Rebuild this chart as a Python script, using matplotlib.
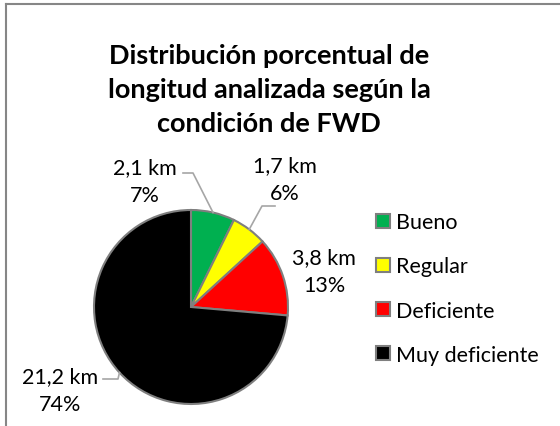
import matplotlib
matplotlib.use("Agg")
import matplotlib.pyplot as plt
import numpy as np
from matplotlib.lines import Line2D
from matplotlib.patches import Patch

categories = ["Bueno", "Regular", "Deficiente", "Muy deficiente"]
lengths_km = [2.1, 1.7, 3.8, 21.2]
colors = ["#00b050", "#ffff00", "#ff0000", "#000000"]
title = "Distribución porcentual de\nlongitud analizada según la\ncondición de FWD"

W, H = 560, 427
DPI = 100
plt.rcParams['font.family'] = ['Lato', 'DejaVu Sans']

fig = plt.figure(figsize=(W / DPI, H / DPI), dpi=DPI)

# chart border (cropped on right/bottom)
fig.add_artist(Line2D([5.5 / W, 5.5 / W], [0, 1 - 4.5 / H], transform=fig.transFigure,
                      color="#868686", lw=1.5))
fig.add_artist(Line2D([5.5 / W, 1], [1 - 4.5 / H, 1 - 4.5 / H], transform=fig.transFigure,
                      color="#868686", lw=1.5))

cx, cy, R = 191, 308, 97
ax = fig.add_axes([(cx - R) / W, (H - cy - R) / H, 2 * R / W, 2 * R / H])

wedges, _ = ax.pie(lengths_km, colors=colors, startangle=90, counterclock=False, radius=1,
                   wedgeprops=dict(edgecolor="#7f7f7f", linewidth=1.5))
ax.set_xlim(-1, 1)
ax.set_ylim(-1, 1)
ax.set_aspect("equal")
ax.axis("off")

total = sum(lengths_km)
pcts = [v / total * 100 for v in lengths_km]

def px2d(px, py):
    return (px - cx) / R, (cy - py) / R

# label text centres (pixels) and leader-line elbows (pixels)
label_pos = [(145, 182), (285, 180), (324, 272), (60, 391)]
elbows = [[(183, 174), (193, 174)], [(275, 207), (262, 207)], None, [(103, 380), (118, 380)]]

fs = 15.5
for i, v in enumerate(lengths_km):
    txt = f"{v:.1f}".replace(".", ",") + " km\n" + f"{pcts[i]:.0f}%"
    x, y = px2d(*label_pos[i])
    ax.text(x, y, txt, ha="center", va="center", fontsize=fs, linespacing=1.45,
            clip_on=False)
    if elbows[i] is not None:
        frac_mid = (sum(lengths_km[:i]) + v / 2) / total
        ang = np.deg2rad(90 - 360 * frac_mid)
        ex, ey = np.cos(ang), np.sin(ang)
        pts = [px2d(*p) for p in elbows[i]] + [(ex, ey)]
        ax.plot([p[0] for p in pts], [p[1] for p in pts], color="#a6a6a6", lw=1.2,
                clip_on=False)

handles = [Patch(facecolor=c, edgecolor="#7f7f7f", linewidth=1.5) for c in colors]
fig.legend(handles, categories, loc="center left", bbox_to_anchor=(376 / W, 1 - 289.5 / H),
           frameon=False, fontsize=fs, handlelength=0.65, handleheight=0.65,
           handletextpad=0.3, labelspacing=1.12, borderaxespad=0, borderpad=0)

fig.text(269 / W, 1 - 90 / H, title, ha="center", va="center", fontsize=19.5,
         fontweight="bold", linespacing=1.5)

fig.savefig("out.png", dpi=DPI)
